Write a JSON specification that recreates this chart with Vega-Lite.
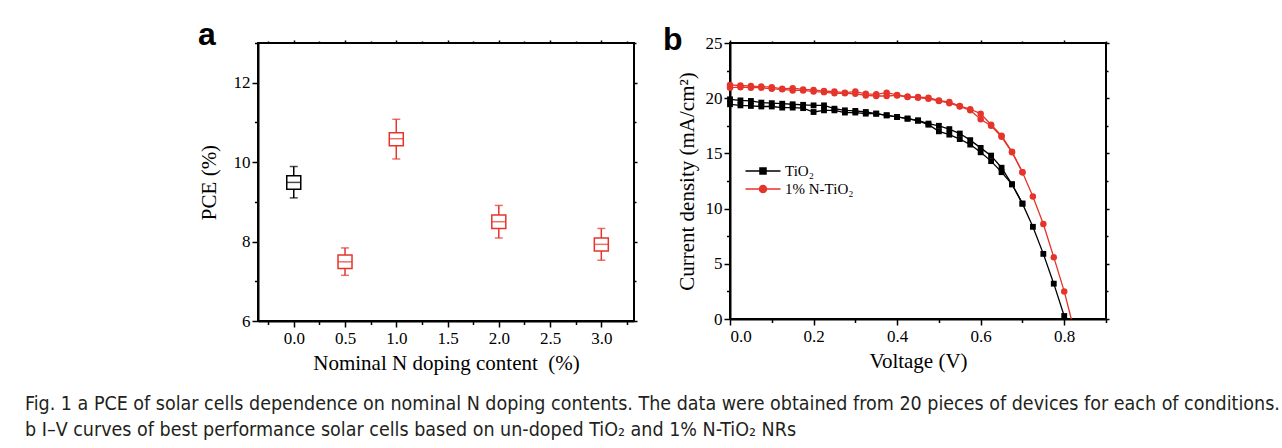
{
  "$schema": "https://vega.github.io/schema/vega-lite/v6.json",
  "background": "white",
  "padding": {"left": 25, "top": 18, "right": 5, "bottom": 5},
  "spacing": 23,
  "resolve": {"scale": {"color": "independent", "stroke": "independent"}, "legend": {"color": "independent", "stroke": "independent"}},
  "datasets": {
    "box": [
      {"x": 0, "g": "u", "lo": 9.1, "q1": 9.32, "med": 9.49, "q3": 9.66, "hi": 9.89},
      {"x": 0.5, "g": "d", "lo": 7.15, "q1": 7.32, "med": 7.49, "q3": 7.66, "hi": 7.84},
      {"x": 1, "g": "d", "lo": 10.08, "q1": 10.41, "med": 10.59, "q3": 10.74, "hi": 11.08},
      {"x": 2, "g": "d", "lo": 8.09, "q1": 8.33, "med": 8.5, "q3": 8.67, "hi": 8.91},
      {"x": 3, "g": "d", "lo": 7.53, "q1": 7.76, "med": 7.93, "q3": 8.09, "hi": 8.33}
    ],
    "iv": [
      {"v": 0.000, "j": 19.9, "s": "TiO₂", "k": "A"},
      {"v": 0.025, "j": 19.8, "s": "TiO₂", "k": "A"},
      {"v": 0.050, "j": 19.75, "s": "TiO₂", "k": "A"},
      {"v": 0.075, "j": 19.6, "s": "TiO₂", "k": "A"},
      {"v": 0.100, "j": 19.55, "s": "TiO₂", "k": "A"},
      {"v": 0.125, "j": 19.5, "s": "TiO₂", "k": "A"},
      {"v": 0.150, "j": 19.45, "s": "TiO₂", "k": "A"},
      {"v": 0.175, "j": 19.4, "s": "TiO₂", "k": "A"},
      {"v": 0.200, "j": 19.35, "s": "TiO₂", "k": "A"},
      {"v": 0.225, "j": 19.35, "s": "TiO₂", "k": "A"},
      {"v": 0.250, "j": 19.05, "s": "TiO₂", "k": "A"},
      {"v": 0.275, "j": 18.9, "s": "TiO₂", "k": "A"},
      {"v": 0.300, "j": 18.85, "s": "TiO₂", "k": "A"},
      {"v": 0.325, "j": 18.75, "s": "TiO₂", "k": "A"},
      {"v": 0.350, "j": 18.6, "s": "TiO₂", "k": "A"},
      {"v": 0.375, "j": 18.45, "s": "TiO₂", "k": "A"},
      {"v": 0.400, "j": 18.3, "s": "TiO₂", "k": "A"},
      {"v": 0.425, "j": 18.15, "s": "TiO₂", "k": "A"},
      {"v": 0.450, "j": 18.0, "s": "TiO₂", "k": "A"},
      {"v": 0.475, "j": 17.7, "s": "TiO₂", "k": "A"},
      {"v": 0.500, "j": 17.5, "s": "TiO₂", "k": "A"},
      {"v": 0.525, "j": 17.2, "s": "TiO₂", "k": "A"},
      {"v": 0.550, "j": 16.8, "s": "TiO₂", "k": "A"},
      {"v": 0.575, "j": 16.2, "s": "TiO₂", "k": "A"},
      {"v": 0.600, "j": 15.5, "s": "TiO₂", "k": "A"},
      {"v": 0.625, "j": 14.8, "s": "TiO₂", "k": "A"},
      {"v": 0.650, "j": 13.7, "s": "TiO₂", "k": "A"},
      {"v": 0.675, "j": 12.2, "s": "TiO₂", "k": "A"},
      {"v": 0.700, "j": 10.45, "s": "TiO₂", "k": "A"},
      {"v": 0.725, "j": 8.35, "s": "TiO₂", "k": "A"},
      {"v": 0.750, "j": 5.9, "s": "TiO₂", "k": "A"},
      {"v": 0.775, "j": 3.2, "s": "TiO₂", "k": "A"},
      {"v": 0.800, "j": 0.27, "s": "TiO₂", "k": "A"},
      {"v": 0.000, "j": 19.45, "s": "TiO₂", "k": "B"},
      {"v": 0.025, "j": 19.35, "s": "TiO₂", "k": "B"},
      {"v": 0.050, "j": 19.3, "s": "TiO₂", "k": "B"},
      {"v": 0.075, "j": 19.25, "s": "TiO₂", "k": "B"},
      {"v": 0.100, "j": 19.25, "s": "TiO₂", "k": "B"},
      {"v": 0.125, "j": 19.15, "s": "TiO₂", "k": "B"},
      {"v": 0.150, "j": 19.15, "s": "TiO₂", "k": "B"},
      {"v": 0.175, "j": 19.1, "s": "TiO₂", "k": "B"},
      {"v": 0.200, "j": 18.75, "s": "TiO₂", "k": "B"},
      {"v": 0.225, "j": 18.9, "s": "TiO₂", "k": "B"},
      {"v": 0.250, "j": 18.9, "s": "TiO₂", "k": "B"},
      {"v": 0.275, "j": 18.7, "s": "TiO₂", "k": "B"},
      {"v": 0.300, "j": 18.7, "s": "TiO₂", "k": "B"},
      {"v": 0.325, "j": 18.6, "s": "TiO₂", "k": "B"},
      {"v": 0.350, "j": 18.6, "s": "TiO₂", "k": "B"},
      {"v": 0.375, "j": 18.45, "s": "TiO₂", "k": "B"},
      {"v": 0.400, "j": 18.3, "s": "TiO₂", "k": "B"},
      {"v": 0.425, "j": 18.15, "s": "TiO₂", "k": "B"},
      {"v": 0.450, "j": 17.95, "s": "TiO₂", "k": "B"},
      {"v": 0.475, "j": 17.6, "s": "TiO₂", "k": "B"},
      {"v": 0.500, "j": 17.0, "s": "TiO₂", "k": "B"},
      {"v": 0.525, "j": 16.7, "s": "TiO₂", "k": "B"},
      {"v": 0.550, "j": 16.3, "s": "TiO₂", "k": "B"},
      {"v": 0.575, "j": 15.8, "s": "TiO₂", "k": "B"},
      {"v": 0.600, "j": 15.1, "s": "TiO₂", "k": "B"},
      {"v": 0.625, "j": 14.3, "s": "TiO₂", "k": "B"},
      {"v": 0.650, "j": 13.3, "s": "TiO₂", "k": "B"},
      {"v": 0.675, "j": 12.2, "s": "TiO₂", "k": "B"},
      {"v": 0.700, "j": 10.45, "s": "TiO₂", "k": "B"},
      {"v": 0.000, "j": 21.2, "s": "1% N-TiO₂", "k": "A"},
      {"v": 0.025, "j": 21.15, "s": "1% N-TiO₂", "k": "A"},
      {"v": 0.050, "j": 21.1, "s": "1% N-TiO₂", "k": "A"},
      {"v": 0.075, "j": 21.05, "s": "1% N-TiO₂", "k": "A"},
      {"v": 0.100, "j": 21.0, "s": "1% N-TiO₂", "k": "A"},
      {"v": 0.125, "j": 20.85, "s": "1% N-TiO₂", "k": "A"},
      {"v": 0.150, "j": 20.9, "s": "1% N-TiO₂", "k": "A"},
      {"v": 0.175, "j": 20.8, "s": "1% N-TiO₂", "k": "A"},
      {"v": 0.200, "j": 20.75, "s": "1% N-TiO₂", "k": "A"},
      {"v": 0.225, "j": 20.65, "s": "1% N-TiO₂", "k": "A"},
      {"v": 0.250, "j": 20.6, "s": "1% N-TiO₂", "k": "A"},
      {"v": 0.275, "j": 20.5, "s": "1% N-TiO₂", "k": "A"},
      {"v": 0.300, "j": 20.6, "s": "1% N-TiO₂", "k": "A"},
      {"v": 0.325, "j": 20.4, "s": "1% N-TiO₂", "k": "A"},
      {"v": 0.350, "j": 20.35, "s": "1% N-TiO₂", "k": "A"},
      {"v": 0.375, "j": 20.5, "s": "1% N-TiO₂", "k": "A"},
      {"v": 0.400, "j": 20.3, "s": "1% N-TiO₂", "k": "A"},
      {"v": 0.425, "j": 20.15, "s": "1% N-TiO₂", "k": "A"},
      {"v": 0.450, "j": 20.1, "s": "1% N-TiO₂", "k": "A"},
      {"v": 0.475, "j": 20.05, "s": "1% N-TiO₂", "k": "A"},
      {"v": 0.500, "j": 19.8, "s": "1% N-TiO₂", "k": "A"},
      {"v": 0.525, "j": 19.65, "s": "1% N-TiO₂", "k": "A"},
      {"v": 0.550, "j": 19.3, "s": "1% N-TiO₂", "k": "A"},
      {"v": 0.575, "j": 19.0, "s": "1% N-TiO₂", "k": "A"},
      {"v": 0.600, "j": 18.6, "s": "1% N-TiO₂", "k": "A"},
      {"v": 0.625, "j": 17.6, "s": "1% N-TiO₂", "k": "A"},
      {"v": 0.650, "j": 16.6, "s": "1% N-TiO₂", "k": "A"},
      {"v": 0.675, "j": 15.15, "s": "1% N-TiO₂", "k": "A"},
      {"v": 0.700, "j": 13.3, "s": "1% N-TiO₂", "k": "A"},
      {"v": 0.725, "j": 11.1, "s": "1% N-TiO₂", "k": "A"},
      {"v": 0.750, "j": 8.6, "s": "1% N-TiO₂", "k": "A"},
      {"v": 0.775, "j": 5.6, "s": "1% N-TiO₂", "k": "A"},
      {"v": 0.800, "j": 2.5, "s": "1% N-TiO₂", "k": "A"},
      {"v": 0.817, "j": 0, "s": "1% N-TiO₂", "k": "A"},
      {"v": 0.000, "j": 20.95, "s": "1% N-TiO₂", "k": "B"},
      {"v": 0.025, "j": 21.0, "s": "1% N-TiO₂", "k": "B"},
      {"v": 0.050, "j": 20.95, "s": "1% N-TiO₂", "k": "B"},
      {"v": 0.075, "j": 20.95, "s": "1% N-TiO₂", "k": "B"},
      {"v": 0.100, "j": 20.85, "s": "1% N-TiO₂", "k": "B"},
      {"v": 0.125, "j": 20.8, "s": "1% N-TiO₂", "k": "B"},
      {"v": 0.150, "j": 20.7, "s": "1% N-TiO₂", "k": "B"},
      {"v": 0.175, "j": 20.7, "s": "1% N-TiO₂", "k": "B"},
      {"v": 0.200, "j": 20.6, "s": "1% N-TiO₂", "k": "B"},
      {"v": 0.225, "j": 20.55, "s": "1% N-TiO₂", "k": "B"},
      {"v": 0.250, "j": 20.45, "s": "1% N-TiO₂", "k": "B"},
      {"v": 0.275, "j": 20.45, "s": "1% N-TiO₂", "k": "B"},
      {"v": 0.300, "j": 20.4, "s": "1% N-TiO₂", "k": "B"},
      {"v": 0.325, "j": 20.25, "s": "1% N-TiO₂", "k": "B"},
      {"v": 0.350, "j": 20.2, "s": "1% N-TiO₂", "k": "B"},
      {"v": 0.375, "j": 20.2, "s": "1% N-TiO₂", "k": "B"},
      {"v": 0.400, "j": 20.25, "s": "1% N-TiO₂", "k": "B"},
      {"v": 0.425, "j": 20.1, "s": "1% N-TiO₂", "k": "B"},
      {"v": 0.450, "j": 20.05, "s": "1% N-TiO₂", "k": "B"},
      {"v": 0.475, "j": 19.95, "s": "1% N-TiO₂", "k": "B"},
      {"v": 0.500, "j": 19.75, "s": "1% N-TiO₂", "k": "B"},
      {"v": 0.525, "j": 19.55, "s": "1% N-TiO₂", "k": "B"},
      {"v": 0.550, "j": 19.25, "s": "1% N-TiO₂", "k": "B"},
      {"v": 0.575, "j": 18.9, "s": "1% N-TiO₂", "k": "B"},
      {"v": 0.600, "j": 18.1, "s": "1% N-TiO₂", "k": "B"},
      {"v": 0.625, "j": 17.5, "s": "1% N-TiO₂", "k": "B"},
      {"v": 0.650, "j": 16.5, "s": "1% N-TiO₂", "k": "B"},
      {"v": 0.675, "j": 15.1, "s": "1% N-TiO₂", "k": "B"},
      {"v": 0.700, "j": 13.3, "s": "1% N-TiO₂", "k": "B"}
    ]
  },
  "title": {
    "text": [
      "Fig. 1 a PCE of solar cells dependence on nominal N doping contents. The data were obtained from 20 pieces of devices for each of conditions.",
      "b I–V curves of best performance solar cells based on un-doped TiO₂ and 1% N-TiO₂ NRs"
    ],
    "orient": "bottom",
    "anchor": "start",
    "frame": "bounds",
    "font": "Liberation Sans Narrow, DejaVu Sans Condensed, sans-serif",
    "fontSize": 19.5,
    "fontWeight": "normal",
    "color": "#231f20",
    "lineHeight": 25.5,
    "dx": -172,
    "offset": 21
  },
  "hconcat": [
    {
      "width": 376,
      "height": 278,
      "title": {"text": "a", "anchor": "start", "frame": "bounds", "font": "Liberation Sans", "fontSize": 32, "fontWeight": "bold", "color": "black", "baseline": "alphabetic", "offset": 0, "dy": 38},
      "data": {"name": "box"},
      "resolve": {"axis": {"x": "independent", "y": "independent"}},
      "layer": [
        {
          "mark": {"type": "rule", "strokeWidth": 1.5},
          "encoding": {
            "x": {
              "field": "x", "type": "quantitative",
              "scale": {"domain": [-0.3, 3.27], "nice": false, "zero": false},
              "axis": {
                "title": "Nominal N doping content\u00a0 (%)",
                "values": [-0.25, 0, 0.25, 0.5, 0.75, 1, 1.25, 1.5, 1.75, 2, 2.25, 2.5, 2.75, 3, 3.25],
                "format": ".1f",
                "labelExpr": "abs(datum.value*2 - round(datum.value*2)) < 0.001 ? datum.label : ''",
                "tickSize": {"condition": {"test": "abs(datum.value*2 - round(datum.value*2)) < 0.001", "value": 6}, "value": 3.5},
                "labelPadding": 3,
                "titlePadding": 6
              }
            },
            "y": {
              "field": "lo", "type": "quantitative", "title": "PCE (%)",
              "scale": {"domain": [6, 13], "nice": false, "zero": false},
              "axis": {
                "title": "PCE (%)",
                "values": [6, 7, 8, 9, 10, 11, 12, 13],
                "labelExpr": "datum.value % 2 === 0 ? datum.label : ''",
                "tickSize": {"condition": {"test": "datum.value % 2 === 0", "value": 6}, "value": 3.5},
                "labelPadding": 2,
                "titlePadding": 14
              }
            },
            "y2": {"field": "hi"},
            "color": {"field": "g", "type": "nominal", "scale": {"domain": ["u", "d"], "range": ["black", "#e5352b"]}, "legend": null}
          }
        },
        {
          "mark": {"type": "bar", "size": 14, "fill": "white", "strokeWidth": 1.5},
          "encoding": {
            "x": {
              "field": "x", "type": "quantitative",
              "axis": {"orient": "top", "title": null, "labels": false, "domain": false,
                "values": [-0.25, 0, 0.25, 0.5, 0.75, 1, 1.25, 1.5, 1.75, 2, 2.25, 2.5, 2.75, 3, 3.25],
                "tickSize": {"condition": {"test": "abs(datum.value*2 - round(datum.value*2)) < 0.001", "value": 3}, "value": 2}}
            },
            "y": {
              "field": "q1", "type": "quantitative", "title": "PCE (%)",
              "axis": {"orient": "right", "title": null, "labels": false, "domain": false,
                "values": [6, 7, 8, 9, 10, 11, 12, 13],
                "tickSize": {"condition": {"test": "datum.value % 2 === 0", "value": 3}, "value": 2}}
            },
            "y2": {"field": "q3"},
            "stroke": {"field": "g", "type": "nominal", "scale": {"domain": ["u", "d"], "range": ["black", "#e5352b"]}, "legend": null}
          }
        },
        {
          "mark": {"type": "tick", "orient": "horizontal", "size": 14, "thickness": 1.5},
          "encoding": {
            "x": {"field": "x", "type": "quantitative", "axis": null},
            "y": {"field": "med", "type": "quantitative", "axis": null},
            "color": {"field": "g", "type": "nominal", "scale": {"domain": ["u", "d"], "range": ["black", "#e5352b"]}, "legend": null}
          }
        },
        {
          "mark": {"type": "tick", "orient": "horizontal", "size": 8, "thickness": 1.5},
          "encoding": {
            "x": {"field": "x", "type": "quantitative", "axis": null},
            "y": {"field": "hi", "type": "quantitative", "axis": null},
            "color": {"field": "g", "type": "nominal", "scale": {"domain": ["u", "d"], "range": ["black", "#e5352b"]}, "legend": null}
          }
        },
        {
          "mark": {"type": "tick", "orient": "horizontal", "size": 8, "thickness": 1.5},
          "encoding": {
            "x": {"field": "x", "type": "quantitative", "axis": null},
            "y": {"field": "lo", "type": "quantitative", "axis": null},
            "color": {"field": "g", "type": "nominal", "scale": {"domain": ["u", "d"], "range": ["black", "#e5352b"]}, "legend": null}
          }
        }
      ]
    },
    {
      "width": 376,
      "height": 276,
      "title": {"text": "b", "anchor": "start", "frame": "bounds", "font": "Liberation Sans", "fontSize": 32, "fontWeight": "bold", "color": "black", "baseline": "alphabetic", "offset": 0, "dy": 48, "dx": -13},
      "data": {"name": "iv"},
      "resolve": {"axis": {"x": "independent", "y": "independent"}},
      "encoding": {
        "color": {
          "field": "s", "type": "nominal",
          "scale": {"domain": ["TiO₂", "1% N-TiO₂"], "range": ["black", "#e5352b"]},
          "legend": {
            "orient": "none", "legendX": 39, "legendY": 120, "title": null,
            "labelFont": "Liberation Serif", "labelFontSize": 15, "labelColor": "black",
            "symbolSize": 196, "rowPadding": 2, "labelOffset": 0, "padding": 0,
            "symbolStrokeWidth": 1.5,
            "encode": {
              "symbols": {
                "update": {
                  "shape": {"signal": "datum.value === 'TiO₂' ? 'M-4.5,0H0.5M-2.43,-0.43H-1.57V0.43H-2.43Z' : 'M-4.5,0H0.5M-1.5,0A0.5,0.5 0 1,1 -2.5,0A0.5,0.5 0 1,1 -1.5,0Z'"},
                  "fill": {"signal": "datum.value === 'TiO₂' ? 'black' : '#e5352b'"},
                  "stroke": {"signal": "datum.value === 'TiO₂' ? 'black' : '#e5352b'"},
                  "opacity": {"value": 1}
                }
              }
            }
          }
        }
      },
      "layer": [
        {
          "mark": {"type": "line", "strokeWidth": 1.3},
          "encoding": {
            "x": {
              "field": "v", "type": "quantitative",
              "scale": {"domain": [0, 0.9], "nice": false, "zero": false},
              "axis": {
                "title": "Voltage (V)",
                "values": [0, 0.1, 0.2, 0.3, 0.4, 0.5, 0.6, 0.7, 0.8, 0.9],
                "format": ".1f",
                "labelExpr": "abs(datum.value*5 - round(datum.value*5)) < 0.001 && datum.value < 0.85 ? datum.label : ''",
                "tickSize": {"condition": {"test": "abs(datum.value*5 - round(datum.value*5)) < 0.001", "value": 6}, "value": 3.5},
                "labelPadding": 3,
                "titlePadding": 6
              }
            },
            "y": {
              "field": "j", "type": "quantitative",
              "scale": {"domain": [0, 25], "nice": false, "zero": false},
              "axis": {
                "title": "Current density (mA/cm²)",
                "values": [0, 2.5, 5, 7.5, 10, 12.5, 15, 17.5, 20, 22.5, 25],
                "labelExpr": "datum.value % 5 === 0 ? datum.label : ''",
                "tickSize": {"condition": {"test": "datum.value % 5 === 0", "value": 6}, "value": 3.5},
                "labelPadding": 2,
                "titlePadding": 8
              }
            },
            "detail": {"field": "k", "type": "nominal"}
          }
        },
        {
          "transform": [{"filter": "datum.j > 0 && datum.s === 'TiO₂'"}],
          "mark": {"type": "point", "shape": "square", "filled": true, "opacity": 1, "size": 34},
          "encoding": {
            "x": {
              "field": "v", "type": "quantitative",
              "axis": {"orient": "top", "title": null, "labels": false, "domain": false,
                "values": [0, 0.1, 0.2, 0.3, 0.4, 0.5, 0.6, 0.7, 0.8, 0.9],
                "tickSize": {"condition": {"test": "abs(datum.value*5 - round(datum.value*5)) < 0.001", "value": 3}, "value": 2}}
            },
            "y": {
              "field": "j", "type": "quantitative",
              "axis": {"orient": "right", "title": null, "labels": false, "domain": false,
                "values": [0, 2.5, 5, 7.5, 10, 12.5, 15, 17.5, 20, 22.5, 25],
                "tickSize": {"condition": {"test": "datum.value % 5 === 0", "value": 3}, "value": 2}}
            }
          }
        },
        {
          "transform": [{"filter": "datum.j > 0 && datum.s !== 'TiO₂'"}],
          "mark": {"type": "point", "shape": "circle", "filled": true, "opacity": 1, "size": 42},
          "encoding": {
            "x": {"field": "v", "type": "quantitative", "axis": null},
            "y": {"field": "j", "type": "quantitative", "axis": null}
          }
        }
      ]
    }
  ],
  "config": {
    "view": {"stroke": "black", "strokeWidth": 2},
    "axis": {
      "labelFont": "Liberation Serif", "titleFont": "Liberation Serif",
      "labelFontSize": 17, "titleFontSize": 21, "titleFontWeight": "normal",
      "labelColor": "black", "titleColor": "black",
      "domainColor": "black", "domainWidth": 2,
      "tickColor": "black", "tickWidth": 1.5, "grid": false
    }
  }
}
